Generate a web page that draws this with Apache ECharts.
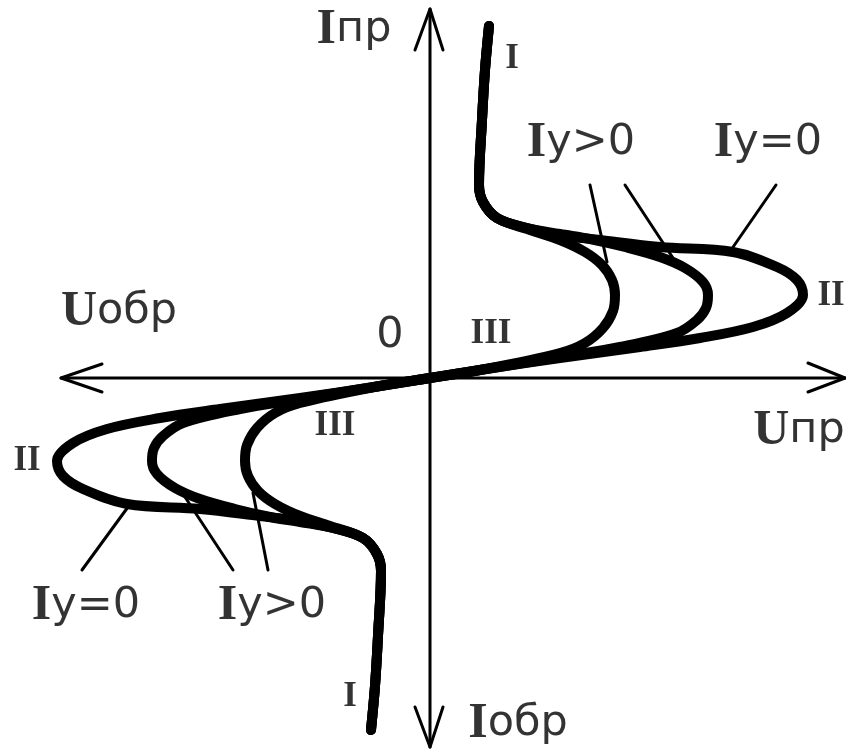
<!DOCTYPE html>
<html>
<head>
<meta charset="utf-8">
<script src="https://cdn.jsdelivr.net/npm/echarts@6/dist/echarts.min.js"></script>
<style>
  html, body { margin: 0; padding: 0; background: #ffffff; }
  #chart { width: 846px; height: 751px; }
</style>
</head>
<body>
<div id="chart"></div>
<script>
// Volt-ampere characteristic of a symmetric thyristor (triac), schematic units.
// Each curve runs from the reverse branch (bottom left) through 0 to the forward branch (top right).

// Iy = 0 (no control current): widest loop
const curveIy0 = [
  [-5.9, -35.2], [-5.5, -30.8], [-5.2, -25.8], [-4.9, -19.3], [-5.3, -17.6], [-6.7, -16.0],
  [-9.7, -15.0], [-13.0, -14.3], [-17.0, -13.8], [-23.0, -13.1], [-30.3, -12.6], [-34.7, -11.1],
  [-36.7, -9.8], [-37.3, -8.3], [-35.7, -6.5], [-32.3, -5.1], [-27.0, -4.0], [-21.0, -3.1],
  [-13.0, -2.0], [-5.0, -0.8], [0, 0],
  [5.0, 0.8], [13.0, 2.0], [21.0, 3.1], [27.0, 4.0], [32.3, 5.1], [35.7, 6.5], [37.3, 8.3],
  [36.7, 9.8], [34.7, 11.1], [30.3, 12.6], [23.0, 13.1], [17.0, 13.8], [13.0, 14.3], [9.7, 15.0],
  [6.7, 16.0], [5.3, 17.6], [4.9, 19.3], [5.2, 25.8], [5.5, 30.8], [5.9, 35.2]
];

// Iy > 0, smaller control current
const curveIyLow = [
  [-5.9, -35.2], [-5.5, -30.8], [-5.2, -25.8], [-4.9, -19.3], [-5.3, -17.6], [-6.7, -16.0],
  [-9.7, -15.0], [-13.0, -14.4], [-16.0, -13.9], [-19.5, -13.1], [-23.0, -12.1], [-25.5, -11.0],
  [-27.3, -9.6], [-27.8, -8.3], [-27.6, -7.0], [-26.7, -5.8], [-24.7, -4.5], [-19.0, -3.1],
  [-13.0, -2.1], [-5.0, -0.8], [0, 0],
  [5.0, 0.8], [13.0, 2.1], [19.0, 3.1], [24.7, 4.5], [26.7, 5.8], [27.6, 7.0], [27.8, 8.3],
  [27.3, 9.6], [25.5, 11.0], [23.0, 12.1], [19.5, 13.1], [16.0, 13.9], [13.0, 14.4], [9.7, 15.0],
  [6.7, 16.0], [5.3, 17.6], [4.9, 19.3], [5.2, 25.8], [5.5, 30.8], [5.9, 35.2]
];

// Iy > 0, larger control current: narrowest loop
const curveIyHigh = [
  [-5.9, -35.2], [-5.5, -30.8], [-5.2, -25.8], [-4.9, -19.3], [-5.3, -17.6], [-6.7, -16.0],
  [-10.0, -14.8], [-13.0, -13.8], [-15.5, -12.6], [-17.2, -11.3], [-18.2, -9.8], [-18.5, -8.3],
  [-18.3, -6.7], [-17.3, -5.0], [-15.5, -3.5], [-13.0, -2.5], [-5.0, -0.8], [0, 0],
  [5.0, 0.8], [13.0, 2.5], [15.5, 3.5], [17.3, 5.0], [18.3, 6.7], [18.5, 8.3], [18.2, 9.8],
  [17.2, 11.3], [15.5, 12.6], [13.0, 13.8], [10.0, 14.8], [6.7, 16.0], [5.3, 17.6], [4.9, 19.3],
  [5.2, 25.8], [5.5, 30.8], [5.9, 35.2]
];

// Axes with open arrowheads
const axisU = [[-36.9, 0], [41.5, 0]];
const axisI = [[0, 36.9], [0, -36.9]];
const arrowUpr = [[37.8, 1.5], [41.5, 0], [37.8, -1.4]];
const arrowUobr = [[-32.8, 1.4], [-36.9, 0], [-32.8, -1.4]];
const arrowIpr = [[-1.5, 32.8], [0, 36.9], [1.3, 32.8]];
const arrowIobr = [[-1.5, -32.9], [0, -36.9], [1.3, -32.9]];

// Leader lines from the curve captions to the curves
const leaders = [
  [[16.0, 19.3], [17.7, 11.6]],
  [[19.5, 19.3], [24.3, 12.0]],
  [[34.6, 19.3], [30.1, 12.8]],
  [[-34.8, -19.2], [-30.2, -12.9]],
  [[-19.7, -19.2], [-24.5, -11.9]],
  [[-16.2, -19.2], [-17.7, -11.5]]
];

// Captions
const axisTitles = ['Iпр', 'Uобр', '0', 'Uпр', 'Iобр'];
const curveCaptions = ['Iy>0', 'Iy=0', 'Iy=0', 'Iy>0'];
const regionNames = ['I', 'II', 'III', 'III', 'II', 'I'];

// Anchor points (chart units) of the captions above
const axisTitleAt = [[-7.6, 34.8], [-31.1, 6.6], [-4.0, 4.2], [36.9, -5.3], [8.8, -34.6]];
const curveCaptionAt = [[15.1, 23.5], [33.8, 23.5], [-34.4, -22.8], [-15.8, -22.8]];
const regionNameAt = [[8.2, 31.9], [40.1, 8.2], [6.1, 4.4], [-9.5, -4.8], [-40.3, -8.3], [-8.0, -31.9]];

const INK = '#000000';

const richStyles = {
  s: { fontFamily: 'Liberation Serif', fontWeight: 'bold', fontSize: 50, color: INK, lineHeight: 56 },
  t: { fontFamily: 'DejaVu Sans', fontSize: 43, color: INK, lineHeight: 56 },
  r: { fontFamily: 'Liberation Serif', fontWeight: 'bold', fontSize: 35, color: INK, lineHeight: 40 }
};

function mixedText(str) {
  const head = str.charAt(0);
  if (head === 'I' || head === 'U') {
    return '{s|' + head + '}{t|' + str.slice(1) + '}';
  }
  return '{t|' + str + '}';
}

function textSeries(texts, anchors, formatter) {
  return texts.map(function (txt, i) {
    return {
      type: 'scatter',
      silent: true,
      symbolSize: 0,
      clip: false,
      z: 5,
      data: [anchors[i]],
      label: {
        show: true,
        position: 'inside',
        color: INK,
        textBorderWidth: 0,
        formatter: formatter(txt),
        rich: richStyles
      }
    };
  });
}

function lineSeries(data, width, z, smooth) {
  return {
    type: 'line',
    data: data,
    symbol: 'none',
    smooth: smooth || false,
    clip: false,
    silent: true,
    z: z,
    lineStyle: { color: INK, width: width, cap: 'round', join: 'round' }
  };
}

const series = [];
series.push(lineSeries(axisU, 3, 2));
series.push(lineSeries(axisI, 3, 2));
[arrowUpr, arrowUobr, arrowIpr, arrowIobr].forEach(function (a) {
  series.push(lineSeries(a, 3, 2));
});
leaders.forEach(function (l) { series.push(lineSeries(l, 3, 2)); });
[curveIy0, curveIyLow, curveIyHigh].forEach(function (c) {
  series.push(lineSeries(c, 10, 3, 0.35));
});
textSeries(axisTitles, axisTitleAt, mixedText).forEach(function (s) { series.push(s); });
textSeries(curveCaptions, curveCaptionAt, mixedText).forEach(function (s) { series.push(s); });
textSeries(regionNames, regionNameAt, function (t) { return '{r|' + t + '}'; }).forEach(function (s) { series.push(s); });

const chart = echarts.init(document.getElementById('chart'), null, { renderer: 'canvas' });
chart.setOption({
  animation: false,
  backgroundColor: '#ffffff',
  grid: { left: 0, right: 0, top: 0, bottom: 0 },
  xAxis: { type: 'value', min: -43, max: 41.6, show: false },
  yAxis: { type: 'value', min: -37.3, max: 37.8, show: false },
  series: series
});
</script>
</body>
</html>
